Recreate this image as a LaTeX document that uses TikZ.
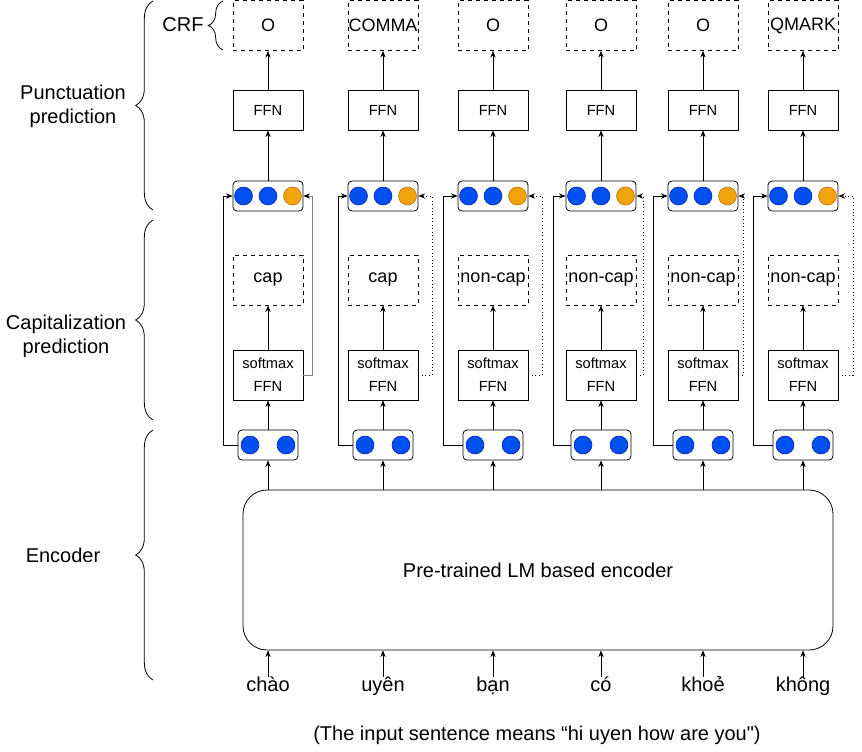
\documentclass[tikz,border=0pt]{standalone}
\usepackage{fontspec}
\setmainfont{Liberation Sans}[Ligatures=TeXOff]
\usetikzlibrary{arrows.meta,decorations.pathreplacing}

\definecolor{dotblue}{HTML}{0050EF}
\definecolor{dotblueline}{HTML}{001DBC}
\definecolor{dotorange}{HTML}{F0A30A}
\definecolor{dotorangeline}{HTML}{BD7000}

\tikzset{
 box/.style={draw, inner sep=0pt, minimum width=52.5pt},
 outbox/.style={box, dashed, minimum height=37.5pt, font=\fontsize{13.5}{15}\selectfont},
 ffnbox/.style={box, minimum height=30pt, font=\fontsize{11}{13}\selectfont},
 vecbox/.style={box, rounded corners=3pt, minimum height=22.5pt},
 embbox/.style={vecbox, minimum width=45pt},
 bluedot/.style={circle, inner sep=0pt, minimum size=13.5pt, fill=dotblue, draw=dotblueline, line width=0.4pt},
 orangedot/.style={bluedot, fill=dotorange, draw=dotorangeline},
 arr/.style={-{Stealth[length=5pt,width=4pt,black]}},
 fbgray/.style={draw=gray},
 fbdot/.style={dotted},
 brc/.style={decorate, decoration={brace, amplitude=13pt}},
 big/.style={font=\fontsize{15}{18}\selectfont},
 word/.style={big, text height=10pt, text depth=3pt, inner sep=1pt}
}

\begin{document}
\begin{tikzpicture}[x=0.75pt, y=-0.75pt, line width=0.6pt]
 \useasboundingbox (0,0) rectangle (862,751);
 \node[draw, rounded corners=18pt, minimum width=442.5pt, minimum height=120pt, big] (enc) at (538,570) {Pre-trained LM based encoder};
 \foreach \i/\cx/\pun/\capl/\lo/\ro/\fb/\wrd in {1/268/O/cap/45/9/fbgray/chào, 2/383/COMMA/cap/45/14/fbdot/uyên, 3/493/O/non-cap/50/14/fbdot/bạn, 4/601/O/non-cap/48/7/fbdot/có, 5/703/O/non-cap/50/5/fbdot/khoẻ, 6/803/QMARK/non-cap/50/15/fbdot/không} {
  \node[outbox] (pun\i) at (\cx,25.5) {\pun};
  \node[ffnbox] (ffn\i) at (\cx,110) {FFN};
  \node[vecbox] (vec\i) at (\cx,196) {};
  \node[bluedot] (va\i) at (\cx-24.5,196) {};
  \node[bluedot] (vb\i) at (\cx,196) {};
  \node[orangedot] (vc\i) at (\cx+24.5,196) {};
  \node[outbox] (cap\i) at (\cx,280) {\capl};
  \node[ffnbox, minimum height=37.5pt, align=center] (soft\i) at (\cx,375) {softmax\\[4pt]FFN};
  \node[embbox] (emb\i) at (\cx,445) {};
  \node[bluedot] (ea\i) at (\cx-18,445) {};
  \node[bluedot] (eb\i) at (\cx+18,445) {};
  \node[word] (w\i) at (\cx,687) {\wrd};
  \draw[arr] (w\i) -- (enc.south -| w\i.north);
  \draw[arr] (enc.north -| emb\i.south) -- (emb\i);
  \draw[arr] (emb\i) -- (soft\i);
  \draw[arr] (soft\i) -- (cap\i);
  \draw[arr] (vec\i) -- (ffn\i);
  \draw[arr] (ffn\i) -- (pun\i);
  \draw[arr] (emb\i.west) -- (\cx-\lo,445) |- (vec\i.west);
  \draw[arr,\fb] (soft\i.east) -- (\cx+35+\ro,375) |- (vec\i.east);
 }
 \draw[brc] (153,210) -- (153,1);
 \draw[brc] (153,420) -- (153,220);
 \draw[brc] (153,680) -- (153,430);
 \draw[brc, decoration={amplitude=11pt}] (223,50) -- (223,1);
 \node[big, align=center] (lpun) at (73,106) {Punctuation\\prediction};
 \node[big, align=center] (lcap) at (66,336) {Capitalization\\prediction};
 \node[big] (lenc) at (63,555) {Encoder};
 \node[big] (lcrf) at (183,25) {CRF};
 \node[big] (note) at (537,735) {(The input sentence means “hi uyen how are you")};
\end{tikzpicture}
\end{document}
